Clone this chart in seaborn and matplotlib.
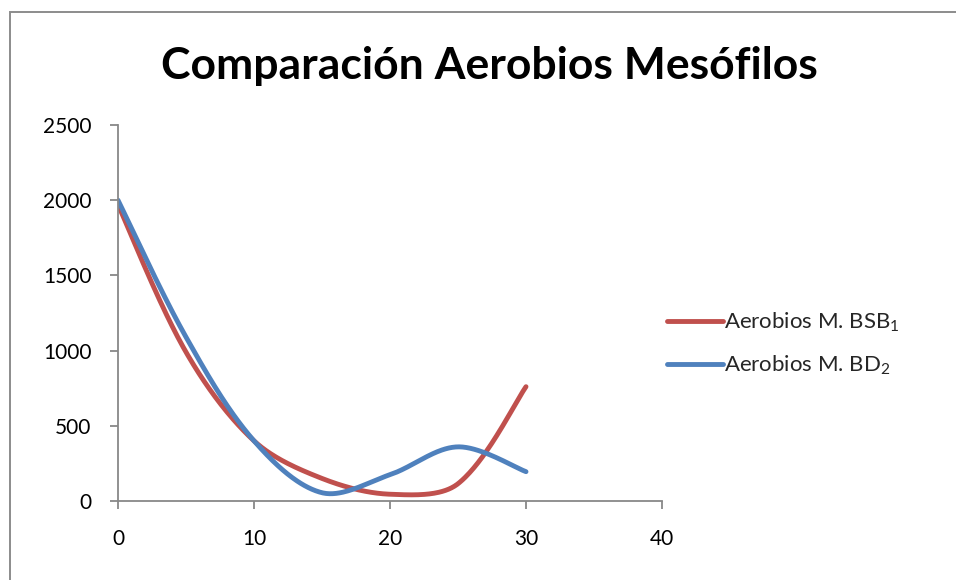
import numpy as np
import pandas as pd
import matplotlib
matplotlib.use("Agg")
import matplotlib.pyplot as plt
from matplotlib.lines import Line2D
from matplotlib.patches import Rectangle
import seaborn as sns

# Sampling days and counts for each series
dias = [0, 5, 10, 15, 20, 25, 30]
bsb1 = [1970, 990, 400, 150, 45, 115, 760]
bd2 = [2000, 1090, 400, 55, 175, 360, 195]

series_names = ["Aerobios M. BSB$_1$", "Aerobios M. BD$_2$"]
colors = ["#C0504D", "#4F81BD"]

title = "Comparación Aerobios Mesófilos"
y_ticks = [0, 500, 1000, 1500, 2000, 2500]
x_ticks = [0, 10, 20, 30, 40]

# pixels per data unit on each axis (used so smoothing follows screen geometry)
PX_X = 544 / 40
PX_Y = 376 / 2500


def smooth(xs, ys, n=60):
    """Bezier smoothing through every point, tangents weighted by segment length."""
    pts = np.column_stack([np.asarray(xs, float) * PX_X, np.asarray(ys, float) * PX_Y])
    m = len(pts)
    d = np.linalg.norm(np.diff(pts, axis=0), axis=1)
    out = []
    for i in range(m - 1):
        p1, p2 = pts[i], pts[i + 1]
        if i == 0:
            c1 = p1 + (p2 - p1) / 6.0
        else:
            c1 = p1 + (p2 - pts[i - 1]) * d[i] / (d[i - 1] + d[i]) / 3.0
        if i + 2 >= m:
            c2 = p2 - (p2 - p1) / 6.0
        else:
            c2 = p2 - (pts[i + 2] - p1) * d[i] / (d[i] + d[i + 1]) / 3.0
        t = np.linspace(0, 1, n)[:, None]
        seg = ((1 - t) ** 3) * p1 + 3 * ((1 - t) ** 2) * t * c1 \
            + 3 * (1 - t) * t ** 2 * c2 + t ** 3 * p2
        out.append(seg if i == 0 else seg[1:])
    curve = np.vstack(out)
    return curve[:, 0] / PX_X, curve[:, 1] / PX_Y


sns.set_theme(style="white")
plt.rcParams["font.family"] = ["Lato", "DejaVu Sans"]
plt.rcParams["mathtext.fontset"] = "custom"
plt.rcParams["mathtext.rm"] = "Lato"
plt.rcParams["mathtext.it"] = "Lato"

fig = plt.figure(figsize=(9.56, 5.80), dpi=100)
ax = fig.add_axes([118 / 956, 1 - 501 / 580, (662 - 118) / 956, (501 - 125) / 580])

frames = []
for name, vals in zip(series_names, [bsb1, bd2]):
    cx, cy = smooth(dias, vals)
    frames.append(pd.DataFrame({"x": cx, "y": cy, "serie": name}))
df = pd.concat(frames, ignore_index=True)

sns.lineplot(data=df, x="x", y="y", hue="serie", palette=colors, sort=False,
             estimator=None, units="serie", linewidth=3.5, ax=ax, legend=False,
             solid_capstyle="round")

ax.set_xlim(0, 40)
ax.set_ylim(0, 2500)
ax.set_xticks(x_ticks)
ax.set_yticks(y_ticks)
ax.set_xlabel("")
ax.set_ylabel("")
ax.tick_params(axis="both", which="both", length=6, width=1.3, color="#888888",
               labelsize=15, labelcolor="#000000", direction="out",
               bottom=True, left=True)
ax.tick_params(axis="x", pad=14)
ax.tick_params(axis="y", pad=13)
for side in ["top", "right"]:
    ax.spines[side].set_visible(False)
for side in ["left", "bottom"]:
    ax.spines[side].set_color("#888888")
    ax.spines[side].set_linewidth(1.3)

fig.text(489 / 956, 1 - 66 / 580, title, ha="center", va="center",
         fontsize=32, fontweight="bold", color="#000000")

handles = [Line2D([0], [0], color=c, lw=3.5, solid_capstyle="round") for c in colors]
leg = fig.legend(handles, series_names, loc="center left",
                 bbox_to_anchor=(656 / 956, 1 - 344 / 580), frameon=False,
                 fontsize=16, handlelength=2.5, handletextpad=0.05,
                 labelspacing=0.9, borderpad=0)

# Chart area border
fig.patches.append(Rectangle((9.5 / 956, -0.05), 1.0, 1 - 11.5 / 580 + 0.05,
                             transform=fig.transFigure, fill=False,
                             edgecolor="#8c8c8c", linewidth=1.4))

fig.savefig("out.png", dpi=100)
